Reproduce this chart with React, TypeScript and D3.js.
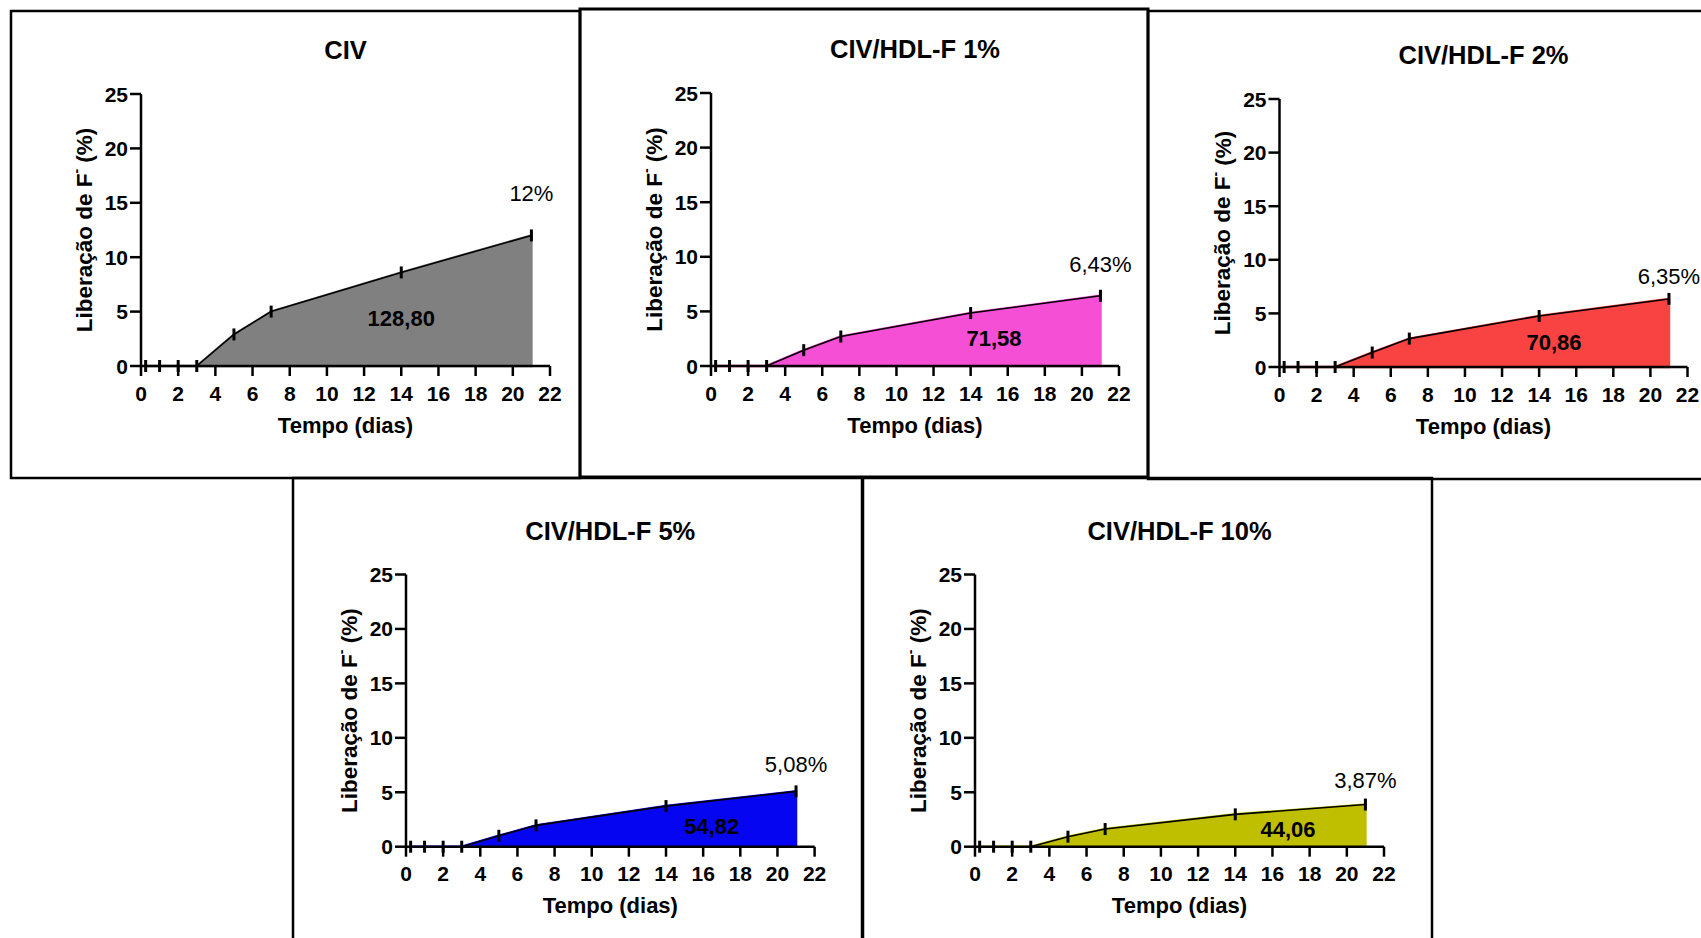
import React from "react";
import * as d3 from "d3";

// ---------- data ----------
const days = [0.25, 1, 2, 3, 5, 7, 14, 21];
const titles = ["CIV", "CIV/HDL-F 1%", "CIV/HDL-F 2%", "CIV/HDL-F 5%", "CIV/HDL-F 10%"];
const fillColors = ["#808080", "#F54FD6", "#F94343", "#0505F2", "#BFBF00"];
const civ = [0, 0, 0, 0, 2.9, 5.0, 8.6, 12.0];
const hdl1 = [0, 0, 0, 0, 1.45, 2.7, 4.85, 6.43];
const hdl2 = [0, 0, 0, 0, 1.35, 2.65, 4.76, 6.35];
const hdl5 = [0, 0, 0, 0, 1.0, 1.96, 3.73, 5.08];
const hdl10 = [0, 0, 0, 0, 0.92, 1.62, 2.97, 3.87];
const seriesValues = [civ, hdl1, hdl2, hdl5, hdl10];
const finalLabels = ["12%", "6,43%", "6,35%", "5,08%", "3,87%"];
const aucLabels = ["128,80", "71,58", "70,86", "54,82", "44,06"];
const xTicks = [0, 2, 4, 6, 8, 10, 12, 14, 16, 18, 20, 22];
const yTicks = [0, 5, 10, 15, 20, 25];
const xLabel = "Tempo (dias)";

// ---------- layout ----------
type Layout = {
  box: [number, number, number, number, number];
  plot: [number, number, number, number];
  finalDy: number;
  aucPos: [number, number];
};
const layouts: Layout[] = [
  { box: [11, 11, 569, 467, 2.5], plot: [141, 94, 409, 272], finalDy: -42, aucPos: [14.0, 4.4] },
  { box: [580, 9, 568, 468, 3], plot: [711, 93, 408, 273], finalDy: -31, aucPos: [15.26, 2.55] },
  { box: [1148, 11, 600, 468, 2.5], plot: [1279.5, 99, 408, 268], finalDy: -22, aucPos: [14.8, 2.24] },
  { box: [293, 478, 569, 500, 2.5], plot: [406, 574.5, 408.6, 272.2], finalDy: -27, aucPos: [16.46, 1.9] },
  { box: [863, 478, 569, 500, 2.5], plot: [975, 574.5, 409, 272.2], finalDy: -24, aucPos: [16.84, 1.55] },
];

const FONT = "'Liberation Sans', Arial, Helvetica, sans-serif";

function Panel({ i }: { i: number }) {
  const L = layouts[i];
  const [left, top, w, h] = L.plot;
  const x = d3.scaleLinear().domain([0, 22]).range([left, left + w]);
  const y = d3.scaleLinear().domain([0, 25]).range([top + h, top]);
  const pts = days.map((d, k) => ({ d, v: seriesValues[i][k] }));
  const area = d3
    .area<{ d: number; v: number }>()
    .x((p) => x(p.d))
    .y0(y(0))
    .y1((p) => y(p.v));
  const line = d3
    .line<{ d: number; v: number }>()
    .x((p) => x(p.d))
    .y((p) => y(p.v));
  const [bx, by, bw, bh, bs] = L.box;
  const last = pts[pts.length - 1];
  const cx = left + w / 2;
  const ylx = left - 57;
  const yly = top + h / 2;
  return (
    <g>
      <rect x={bx} y={by} width={bw} height={bh} fill="none" stroke="#000" strokeWidth={bs} />
      <text x={cx} y={top - 44} textAnchor="middle" dominantBaseline="central" fontFamily={FONT} fontWeight="bold" fontSize={25.5}>
        {titles[i]}
      </text>
      {/* area */}
      <path d={area(pts) || ""} fill={fillColors[i]} stroke={fillColors[i]} strokeWidth={2.5} />
      <path d={line(pts) || ""} fill="none" stroke="#000" strokeWidth={1.6} />
      {/* axes */}
      <line x1={x(0)} x2={x(22)} y1={y(0)} y2={y(0)} stroke="#000" strokeWidth={2.5} />
      <line x1={x(0)} x2={x(0)} y1={y(0) + 1.2} y2={y(25)} stroke="#000" strokeWidth={2.5} />
      {xTicks.map((t) => (
        <g key={"x" + t}>
          <line x1={x(t)} x2={x(t)} y1={y(0)} y2={y(0) + 10} stroke="#000" strokeWidth={2.5} />
          <text x={x(t)} y={y(0) + 27} textAnchor="middle" dominantBaseline="central" fontFamily={FONT} fontWeight="bold" fontSize={21}>
            {t}
          </text>
        </g>
      ))}
      {yTicks.map((t) => (
        <g key={"y" + t}>
          <line x1={x(0) - 11} x2={x(0)} y1={y(t)} y2={y(t)} stroke="#000" strokeWidth={2.5} />
          <text x={x(0) - 13} y={y(t)} textAnchor="end" dominantBaseline="central" fontFamily={FONT} fontWeight="bold" fontSize={21}>
            {t}
          </text>
        </g>
      ))}
      {/* error markers */}
      {pts.map((p, k) => (
        <line key={"m" + k} x1={x(p.d)} x2={x(p.d)} y1={y(p.v) - 6} y2={y(p.v) + 6} stroke="#000" strokeWidth={3} />
      ))}
      {/* axis titles */}
      <text x={cx} y={y(0) + 59} textAnchor="middle" dominantBaseline="central" fontFamily={FONT} fontWeight="bold" fontSize={22}>
        {xLabel}
      </text>
      <text
        transform={`translate(${ylx},${yly}) rotate(-90)`}
        textAnchor="middle"
        dominantBaseline="central"
        fontFamily={FONT}
        fontWeight="bold"
        fontSize={22.5}
      >
        Liberação de F<tspan dy={-8} fontSize={14}>-</tspan>
        <tspan dy={8}> (%)</tspan>
      </text>
      {/* annotations */}
      <text x={x(last.d)} y={y(last.v) + L.finalDy} textAnchor="middle" dominantBaseline="central" fontFamily={FONT} fontSize={22}>
        {finalLabels[i]}
      </text>
      <text x={x(L.aucPos[0])} y={y(L.aucPos[1])} textAnchor="middle" dominantBaseline="central" fontFamily={FONT} fontWeight="bold" fontSize={22}>
        {aucLabels[i]}
      </text>
    </g>
  );
}

export default function App() {
  return (
    <svg
      width={1701}
      height={938}
      viewBox="0 0 1701 938"
      style={{ position: "absolute", left: 0, top: 0, background: "#fff" }}
    >
      <rect x={0} y={0} width={1701} height={938} fill="#fff" />
      {titles.map((_, i) => (
        <Panel key={i} i={i} />
      ))}
    </svg>
  );
}
